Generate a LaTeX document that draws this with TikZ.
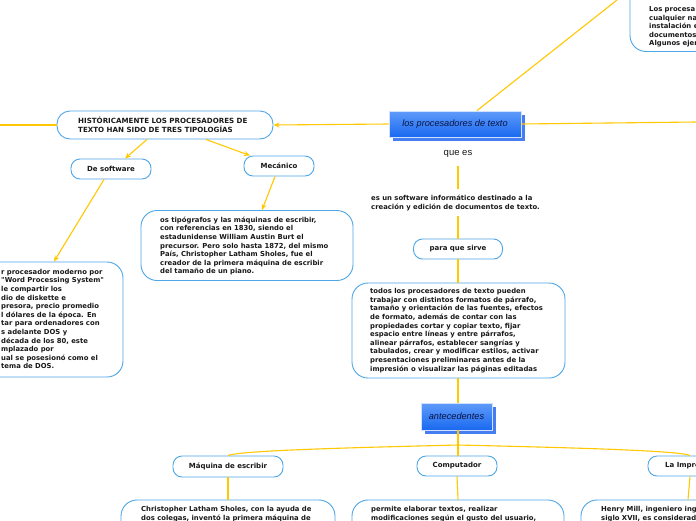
\documentclass[tikz,border=0pt]{standalone}
\usepackage{fontspec}
\setmainfont{DejaVu Sans}
\newfontfamily\dv{DejaVu Sans}
\newfontfamily\ar{Liberation Sans}
\usetikzlibrary{arrows.meta,shadows,calc}
\definecolor{lineY}{RGB}{255,200,0}
\definecolor{bblue}{RGB}{77,166,232}
\definecolor{topA}{RGB}{95,155,250}
\definecolor{topB}{RGB}{25,105,240}
\definecolor{shblue}{RGB}{70,125,240}
\definecolor{ink}{RGB}{25,25,25}
\definecolor{navy}{RGB}{10,20,70}
\tikzset{
 conn/.style={draw=lineY, line width=1.1pt},
 arr/.style={conn, -{Stealth[length=6pt,width=5pt]}},
 pill/.style={draw=bblue, line width=0.9pt, rounded corners=9pt, fill=white, inner sep=0pt},
 bigbox/.style={draw=bblue, line width=0.9pt, rounded corners=16pt, fill=white, inner sep=0pt},
 lbl/.style={font=\dv\bfseries\fontsize{7}{8}\selectfont, text=ink, inner sep=0pt},
 body/.style={font=\dv\bfseries\fontsize{6.85}{8.6}\selectfont, text=ink, align=left, inner sep=0pt},
 topic/.style={draw=white!70!topA, line width=0.8pt, top color=topA, bottom color=topB,
   font=\ar\itshape\fontsize{9.2}{10}\selectfont, text=navy, inner sep=0pt,
   drop shadow={shadow xshift=3.5pt, shadow yshift=-3.5pt, fill=shblue, opacity=1}},
}
\begin{document}
\begin{tikzpicture}[x=1pt,y=-1pt]
\useasboundingbox (0,0) rectangle (696,520);
\clip (0,0) rectangle (696,520);
\fill[white] (0,0) rectangle (696,520);

% free ends
\coordinate (tr) at (617,0);
\coordinate (redge) at (696,122);
\coordinate (ledge) at (0,125);
\coordinate (fan) at (458,445);

% central topic
\node[topic, minimum width=132pt, minimum height=26pt] (center) at (455,124) {los procesadores de texto};
\node[font=\ar\fontsize{9.5}{11}\selectfont, text=ink, inner sep=0pt] (queEs) at (458,154) {que es};
\node[body, anchor=west] (defn) at (371,203) {es un software informático destinado a la\\creación y edición de documentos de texto.};

% top right box
\node[bigbox, minimum width=120pt, minimum height=75pt] (trbox) at (690,14) {};
\node[body, anchor=west] (trtext) at (649,27) {Los procesa\\cualquier na\\instalación e\\documentos\\Algunos ejem};

% historical branch
\node[pill, rounded corners=13pt, minimum width=216pt, minimum height=28pt] (hist) at (165,125) {};
\node[lbl, anchor=west, align=left, font=\dv\bfseries\fontsize{7.1}{8.7}\selectfont] (histtext) at (78,125) {HISTÓRICAMENTE LOS PROCESADORES DE\\TEXTO HAN SIDO DE TRES TIPOLOGÍAS};
\node[pill, lbl, minimum width=80pt, minimum height=20pt] (soft) at (111,169) {De software};
\node[pill, lbl, minimum width=70pt, minimum height=20pt] (mec) at (279,166) {Mecánico};

\node[bigbox, minimum width=212pt, minimum height=70pt] (mecbox) at (247,245.5) {};
\node[body, anchor=west] (mectext) at (160,246) {os tipógrafos y las máquinas de escribir,\\con referencias en 1830, siendo el\\estadunidense William Austin Burt el\\precursor. Pero solo hasta 1872, del mismo\\País, Christopher Latham Sholes, fue el\\creador de la primera máquina de escribir\\del tamaño de un piano.};

\node[bigbox, minimum width=163pt, minimum height=115pt] (softbox) at (41.5,319.5) {};
\node[body, anchor=west] (softtext) at (1,319) {r procesador moderno por\\"Word Processing System"\\le compartir los\\dio de diskette e\\presora, precio promedio\\l dólares de la época. En\\tar para ordenadores con\\s adelante DOS y\\década de los 80, este\\mplazado por\\ual se posesionó como el\\tema de DOS.};

% para que sirve
\node[pill, lbl, minimum width=89pt, minimum height=20pt] (sirve) at (458,249) {para que sirve};
\node[bigbox, minimum width=213pt, minimum height=95pt] (sirvebox) at (458.5,330.5) {};
\node[body, anchor=west] (sirvetext) at (370,330.5) {todos los procesadores de texto pueden\\trabajar con distintos formatos de párrafo,\\tamaño y orientación de las fuentes, efectos\\de formato, además de contar con las\\propiedades cortar y copiar texto, fijar\\espacio entre líneas y entre párrafos,\\alinear párrafos, establecer sangrías y\\tabulados, crear y modificar estilos, activar\\presentaciones preliminares antes de la\\impresión o visualizar las páginas editadas};

% antecedentes
\node[topic, minimum width=71pt, minimum height=27pt] (antec) at (456.5,416.5) {antecedentes};

\node[pill, lbl, minimum width=110pt, minimum height=21pt] (maq) at (228,466.5) {Máquina de escribir};
\node[pill, lbl, minimum width=80pt, minimum height=20pt] (comp) at (457,466) {Computador};
\node[pill, minimum width=84pt, minimum height=20pt] (impre) at (690,466) {};
\node[lbl, anchor=west] (impretext) at (665,466) {La Impre};

\node[bigbox, minimum width=214pt, minimum height=60pt] (maqbox) at (228,530) {};
\node[body, anchor=west] (maqtext) at (141,514) {Christopher Latham Sholes, con la ayuda de\\dos colegas, inventó la primera máquina de};
\node[bigbox, minimum width=212pt, minimum height=60pt] (compbox) at (458,530) {};
\node[body, anchor=west] (comptext) at (371,514) {permite elaborar textos, realizar\\modificaciones según el gusto del usuario,};
\node[bigbox, minimum width=214pt, minimum height=60pt] (imprebox) at (688,530) {};
\node[body, anchor=west] (impreboxtext) at (601,514) {Henry Mill, ingeniero ing\\siglo XVII, es considerad};

% connectors
\draw[conn] ([xshift=22pt]center.north) -- (tr);
\draw[conn] (center.east) -- (redge);
\draw[arr] (center.west) -- (hist.east);
\draw[conn] (hist.west) -- (ledge);
\draw[arr] ([xshift=-18pt]hist.south) -- ([xshift=14pt]soft.north);
\draw[arr] ([xshift=41pt]hist.south) -- ([xshift=-29pt]mec.north);
\draw[arr] ([xshift=-4pt]mec.south) -- ([xshift=15pt]mecbox.north);
\draw[arr] ([xshift=-7pt]soft.south) -- ([xshift=12.5pt]softbox.north);

\draw[conn] ($(queEs.south)+(0,8)$) -- ($(queEs.south |- defn.north)+(0,-6)$);
\draw[conn] ($(sirve.north |- defn.south)+(0,5)$) -- (sirve.north);
\draw[conn] (sirve.south) -- (sirve.south |- sirvebox.north);
\draw[conn] (sirve.south |- sirvebox.south) -- (sirve.south |- antec.north);
\draw[conn] (sirve.south |- antec.south) -- (fan);
\draw[conn] (fan) .. controls (380,447) and (240,450) .. (maq.north);
\draw[conn] (fan) -- (fan |- comp.north);
\draw[conn] (fan) .. controls (540,447) and (680,450) .. (impre.north);
\draw[conn] (maq.south) -- (maqbox.north);
\draw[conn] (comp.south) -- (compbox.north);
\draw[conn] (impre.south) -- (imprebox.north);
\end{tikzpicture}
\end{document}
